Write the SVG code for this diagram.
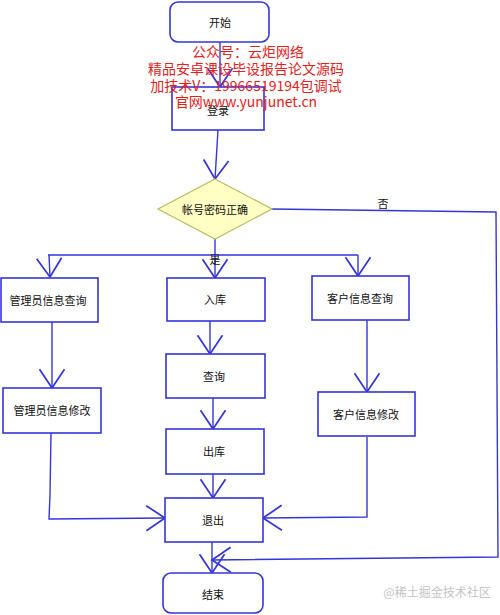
<svg xmlns="http://www.w3.org/2000/svg" width="500" height="615" viewBox="0 0 500 615">
<style>
.box{fill:#fff;stroke:#3535dd;stroke-width:1.6}
.ln{fill:none;stroke:#3535dd;stroke-width:1.4}
.t{font-family:"Noto Sans CJK SC","Liberation Sans",sans-serif;font-size:11px;fill:#111;text-anchor:middle;dominant-baseline:central}
.red{font-family:"Noto Sans CJK SC","Liberation Sans",sans-serif;font-size:14px;fill:#e8201a;text-anchor:middle}
</style>
<defs>
<marker id="ah" markerUnits="userSpaceOnUse" markerWidth="30" markerHeight="30" refX="0" refY="0" viewBox="-16 -12 20 24" orient="auto" overflow="visible">
<path d="M-15,-10 L0,0 L-15,10" fill="none" stroke="#3535dd" stroke-width="1.4"/>
</marker>
</defs>
<rect width="500" height="615" fill="#fff"/>
<g id="connectors">
<path class="ln" d="M220,42 L220,87" marker-end="url(#ah)"/>
<path class="ln" d="M218,130 L215,179" marker-end="url(#ah)"/>
<path class="ln" d="M272,209 L496,212 L498,557 L212,560" marker-end="url(#ah)"/>
<path class="ln" d="M215,239 L215,255"/>
<path class="ln" d="M48,255 L358,255"/>
<path class="ln" d="M49,255 L50,277" marker-end="url(#ah)"/>
<path class="ln" d="M215,255 L215,278" marker-end="url(#ah)"/>
<path class="ln" d="M358,255 L358,276" marker-end="url(#ah)"/>
<path class="ln" d="M210,321 L210,354" marker-end="url(#ah)"/>
<path class="ln" d="M213,398 L213,429" marker-end="url(#ah)"/>
<path class="ln" d="M213,474 L213,498" marker-end="url(#ah)"/>
<path class="ln" d="M212,542 L212,573" marker-end="url(#ah)"/>
<path class="ln" d="M52,322 L52,388" marker-end="url(#ah)"/>
<path class="ln" d="M367,320 L367,392" marker-end="url(#ah)"/>
<path class="ln" d="M51,433 L50,495 L49,519 L165,518" marker-end="url(#ah)"/>
<path class="ln" d="M367,437 L367,517 L263,518" marker-end="url(#ah)"/>
<text class="t" x="383" y="203">否</text>
<text class="t" x="215" y="259">是</text>
</g>
<g id="start"><rect class="box" x="170" y="2" width="99" height="40" rx="8"/><text class="t" x="220" y="22">开始</text></g>
<g id="login"><rect class="box" x="172" y="87" width="92" height="43"/><text class="t" x="218" y="110">登录</text></g>
<g id="check"><polygon points="215,179 272,209 215,239 158,209" fill="#ffffc4" stroke="#bcbc62" stroke-width="1.2"/><text class="t" x="215" y="209">帐号密码正确</text></g>
<g id="adminQuery"><rect class="box" x="1" y="278" width="97" height="44"/><text class="t" x="48" y="300">管理员信息查询</text></g>
<g id="stockIn"><rect class="box" x="167" y="278" width="98" height="43"/><text class="t" x="215" y="299">入库</text></g>
<g id="custQuery"><rect class="box" x="312" y="276" width="97" height="44"/><text class="t" x="360" y="298">客户信息查询</text></g>
<g id="query"><rect class="box" x="166" y="354" width="99" height="44"/><text class="t" x="214" y="376">查询</text></g>
<g id="adminModify"><rect class="box" x="3" y="388" width="98" height="45"/><text class="t" x="52" y="410">管理员信息修改</text></g>
<g id="custModify"><rect class="box" x="318" y="392" width="97" height="44"/><text class="t" x="366" y="414">客户信息修改</text></g>
<g id="stockOut"><rect class="box" x="166" y="429" width="98" height="45"/><text class="t" x="214" y="451">出库</text></g>
<g id="exit"><rect class="box" x="165" y="498" width="98" height="44"/><text class="t" x="213" y="520">退出</text></g>
<g id="end"><rect class="box" x="163" y="573" width="100" height="40" rx="8"/><text class="t" x="213" y="594">结束</text></g>
<g id="watermark">
<text class="red" x="248" y="57">公众号：云炬网络</text>
<text class="red" x="246" y="74">精品安卓课设毕设报告论文源码</text>
<text class="red" x="246" y="91">加技术V：19966519194包调试</text>
<text class="red" x="246" y="107">官网www.yunjunet.cn</text>
<text x="437" y="597" font-family="Noto Sans CJK SC,Liberation Sans,sans-serif" font-size="12" fill="#c4c4c4" text-anchor="middle">@稀土掘金技术社区</text>
</g>
</svg>
